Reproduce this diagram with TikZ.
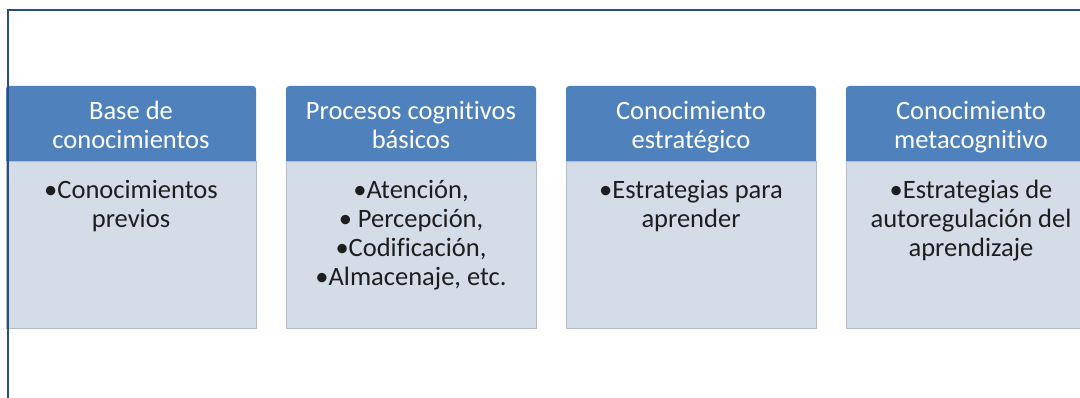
\documentclass[tikz,border=0pt]{standalone}
\usepackage{fontspec}
\setmainfont[Ligatures=NoCommon]{Carlito}
\begin{document}
\begin{tikzpicture}[x=1pt,y=-1pt,
  bodybox/.style={fill=bodyfill, draw=bodyedge, line width=1pt},
  hdrtext/.style={text=white, font=\fontsize{26.5}{29}\selectfont, align=center, inner sep=0pt, anchor=north},
  bodytext/.style={text=bodyink, font=\fontsize{26.5}{29}\selectfont, align=center, inner sep=0pt, anchor=north},
  framel/.style={draw=framecol, line width=2.2pt}]
\definecolor{hdrblue}{HTML}{4F81BD}
\definecolor{bodyfill}{HTML}{D4DCE8}
\definecolor{bodyedge}{HTML}{B4BCC8}
\definecolor{bodyink}{HTML}{1E1E1E}
\definecolor{framecol}{HTML}{2A4E7E}
\useasboundingbox (0,0) rectangle (1080,398);
\begin{scope}
\clip (0,0) rectangle (1080,398);
% columns
\foreach \i/\x in {1/6,2/286,3/566,4/846}{
  \fill[hdrblue, rounded corners=3pt] (\x,86) rectangle (\x+250,166);
  \draw[bodybox] (\x,162) rectangle (\x+250,329);
  \coordinate (h\i) at (\x+125,98.7);
  \coordinate (b\i) at (\x+125,177.7);
}
\node[hdrtext] (t1) at (h1) {\strut Base de\\conocimientos};
\node[hdrtext] (t2) at (h2) {\strut Procesos cognitivos\\básicos};
\node[hdrtext] (t3) at (h3) {\strut Conocimiento\\estratégico};
\node[hdrtext] (t4) at (h4) {\strut Conocimiento\\metacognitivo};
\node[bodytext] (c1) at (b1) {\strut •Conocimientos\\previos};
\node[bodytext] (c2) at (b2) {\strut •Atención,\\• Percepción,\\•Codificación,\\•Almacenaje, etc.};
\node[bodytext] (c3) at (b3) {\strut •Estrategias para\\aprender};
\node[bodytext] (c4) at (b4) {\strut •Estrategias de\\autoregulación del\\aprendizaje};
% frame
\draw[framel] (1090,10) -- (8,10) -- (8,410);
\end{scope}
\end{tikzpicture}
\end{document}
